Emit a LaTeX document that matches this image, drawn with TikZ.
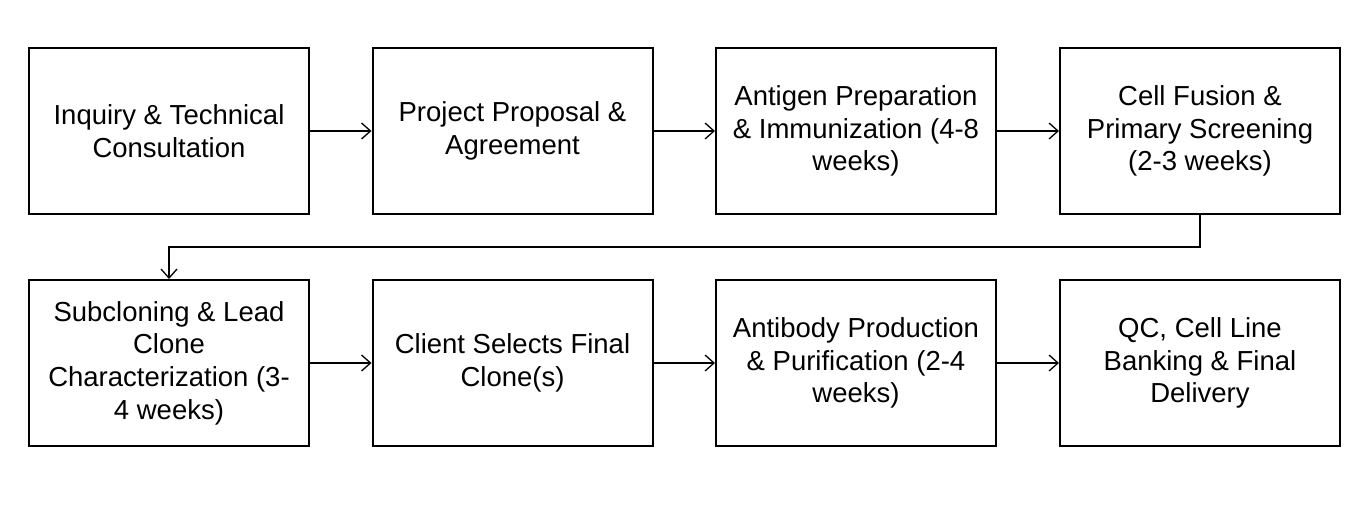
\documentclass[tikz,border=0pt]{standalone}
\usepackage{fontspec}
\setmainfont{Liberation Sans}
\usetikzlibrary{arrows.meta}
\begin{document}
\begin{tikzpicture}[x=1pt,y=-1pt,
  box/.style={draw=black, line width=2pt, minimum width=280pt, minimum height=166pt,
    align=center, inner sep=0pt, font=\fontsize{27.5}{32.7}\selectfont},
  conn/.style={draw=black, line width=1.3pt, -{Straight Barb[length=9pt,width=16pt,line width=1.3pt]}}]
\useasboundingbox (0,0) rectangle (1354,526);
\node[box] (b1) at (169,131) {Inquiry \& Technical\\Consultation};
\node[box] (b2) at (512.5,131) {Project Proposal \&\\Agreement};
\node[box] (b3) at (856,131) {Antigen Preparation\\\& Immunization (4-8\\weeks)};
\node[box] (b4) at (1200,131) {Cell Fusion \&\\Primary Screening\\(2-3 weeks)};
\node[box] (b5) at (169,363) {Subcloning \& Lead\\Clone\\Characterization (3-\\4 weeks)};
\node[box] (b6) at (512.5,363) {Client Selects Final\\Clone(s)};
\node[box] (b7) at (856,363) {Antibody Production\\\& Purification (2-4\\weeks)};
\node[box] (b8) at (1200,363) {QC, Cell Line\\Banking \& Final\\Delivery};
\coordinate (t1) at (1200,247);
\coordinate (t2) at (169,247);
\draw[conn] (b1) -- (b2);
\draw[conn] (b2) -- (b3);
\draw[conn] (b3) -- (b4);
\draw[conn] (b4.south) -- (t1) -- (t2) -- (b5.north);
\draw[conn] (b5) -- (b6);
\draw[conn] (b6) -- (b7);
\draw[conn] (b7) -- (b8);
\end{tikzpicture}
\end{document}
